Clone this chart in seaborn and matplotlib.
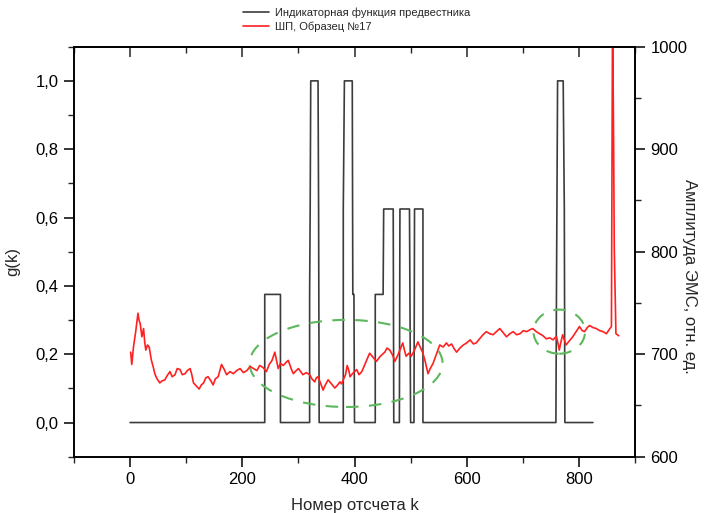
import matplotlib
matplotlib.use('Agg')
import numpy as np
import pandas as pd
import seaborn as sns
import matplotlib.pyplot as plt
from matplotlib.patches import Ellipse
from matplotlib.ticker import MultipleLocator, FuncFormatter

# Indicator function of the precursor (left axis, g(k))
ind_k = [0, 240, 240, 268, 268, 320, 320, 321, 322, 335, 336, 337,
         380, 380, 382, 396, 397, 399, 400,
         437, 437, 451, 452, 469, 470,
         480, 481, 498, 500,
         506, 507, 522, 522,
         759, 760, 762, 772, 774, 775, 825]
ind_g = [0, 0, 0.375, 0.375, 0, 0, 0.375, 0.625, 1.0, 1.0, 0.625, 0,
         0, 0.625, 1.0, 1.0, 0.375, 0.375, 0,
         0, 0.375, 0.375, 0.625, 0.625, 0,
         0, 0.625, 0.625, 0,
         0, 0.625, 0.625, 0,
         0, 0.375, 1.0, 1.0, 0.625, 0, 0]

# EMS amplitude, sample No.17 (right axis)
ems_k = [1, 3, 6, 10, 14, 16, 18, 21, 24, 26, 28, 31, 34, 38, 41, 44, 48, 53,
         57, 62, 66, 71, 75, 80, 84, 89, 93, 98, 102, 107, 110, 113, 118, 123,
         127, 131, 135, 139, 144, 148, 152, 157, 160, 163, 167, 172, 178, 184,
         190, 196, 202, 208, 214, 220, 226, 231, 237, 243, 248, 253, 258, 261,
         264, 268, 273, 278, 282, 287, 291, 296, 300, 304, 308, 314, 320, 324,
         329, 332, 335, 340, 344, 348, 353, 359, 365, 370, 374, 377, 380, 384,
         387, 390, 392, 398, 404, 408, 413, 420, 427, 433, 439, 446, 454, 458,
         463, 468, 472, 478, 486, 489, 492, 497, 501, 507, 513, 517, 522, 526,
         531, 535, 540, 546, 552, 558, 564, 568, 573, 578, 582, 588, 594, 600,
         606, 612, 617, 620, 623, 629, 635, 641, 647, 653, 659, 665, 671, 677,
         683, 689, 695, 701, 707, 713, 718, 724, 730, 736, 742, 748, 754, 757,
         760, 763, 765, 768, 771, 774, 777, 783, 789, 795, 801, 806, 810, 815,
         819, 825, 831, 837, 843, 846, 849, 854, 858, 860, 862, 863, 866, 871]
ems_amp = [702, 690, 707, 722, 740, 733, 730, 717, 725, 712, 704, 709, 707, 694,
           688, 681, 676, 672, 674, 675, 679, 683, 678, 680, 686, 685, 680, 681,
           684, 686, 680, 672, 669, 666, 670, 672, 677, 678, 674, 670, 676, 678,
           684, 690, 686, 680, 683, 681, 684, 686, 682, 684, 688, 686, 684, 689,
           687, 683, 690, 694, 702, 694, 686, 691, 689, 692, 694, 686, 681, 684,
           686, 683, 680, 682, 680, 676, 673, 677, 678, 671, 665, 670, 675, 671,
           667, 670, 673, 671, 675, 680, 689, 684, 678, 682, 685, 680, 683, 692,
           701, 697, 693, 698, 702, 706, 704, 699, 693, 700, 711, 704, 698, 701,
           698, 704, 712, 707, 701, 693, 681, 686, 691, 700, 709, 707, 711, 708,
           710, 705, 702, 706, 709, 711, 714, 710, 711, 713, 715, 719, 722, 720,
           719, 722, 725, 721, 717, 720, 722, 719, 720, 723, 722, 724, 725, 722,
           720, 718, 715, 716, 714, 716, 717, 710, 704, 712, 719, 714, 709, 713,
           717, 722, 727, 723, 722, 726, 728, 726, 725, 723, 722, 721, 720, 724,
           727, 1040, 896, 805, 720, 718]

# Highlight ellipses (centre k, centre amplitude, width, height)
ell_cx = [385, 765]
ell_cy = [691, 722]
ell_w = [344, 92]
ell_h = [85, 43]

xticks = [0, 200, 400, 600, 800]

sns.set_theme(style='ticks')
plt.rcParams['font.family'] = ['Liberation Sans', 'DejaVu Sans']

ind_df = pd.DataFrame({'k': ind_k, 'g': ind_g})
ems_df = pd.DataFrame({'k': ems_k, 'amp': ems_amp})

W, H = 711, 513
fig = plt.figure(figsize=(W / 100, H / 100), dpi=100)
ax = fig.add_axes([74 / W, 1 - 456.7 / H, (635 - 74) / W, 410 / H])
ax2 = ax.twinx()

sns.lineplot(data=ind_df, x='k', y='g', ax=ax, sort=False, estimator=None,
             color='#3c3c3c', lw=1.2, label='Индикаторная функция предвестника',
             legend=False)
sns.lineplot(data=ems_df, x='k', y='amp', ax=ax2, sort=False, estimator=None,
             color='#ff2020', lw=1.2, label='ШП, Образец №17', legend=False)

for cx, cy, w, h in zip(ell_cx, ell_cy, ell_w, ell_h):
    ax2.add_patch(Ellipse((cx, cy), w, h, fill=False, ec='#5cb85c', lw=1.5,
                          ls=(0, (6, 5))))

ax.set_xlim(-100, 900)
ax.set_ylim(-0.1, 1.1)
ax2.set_ylim(600, 1000)

ax.set_xticks(xticks)
ax.xaxis.set_minor_locator(MultipleLocator(100))
ax.yaxis.set_major_locator(MultipleLocator(0.2))
ax.yaxis.set_minor_locator(MultipleLocator(0.1))
ax.yaxis.set_major_formatter(FuncFormatter(lambda v, p: f"{v:.1f}".replace('.', ',')))
ax2.yaxis.set_major_locator(MultipleLocator(100))
ax2.yaxis.set_minor_locator(MultipleLocator(50))

for a in (ax, ax2):
    for s in a.spines.values():
        s.set_visible(True)
        s.set_linewidth(1.2)
        s.set_color('black')
    a.tick_params(which='major', direction='out', length=7, width=1.1,
                  labelsize=12, colors='black', pad=4)
    a.tick_params(which='minor', direction='out', length=4, width=1.0)
    a.grid(False)
ax.tick_params(axis='y', right=False, which='both')
ax2.tick_params(axis='y', left=False, which='both')

top = ax.secondary_xaxis('top')
top.set_xticks(xticks)
top.xaxis.set_minor_locator(MultipleLocator(100))
top.tick_params(which='major', direction='in', length=7, width=1.1, labeltop=False)
top.tick_params(which='minor', direction='in', length=4, width=1.0)
top.spines['top'].set_linewidth(1.2)

ax.set_xlabel('Номер отсчета k', fontsize=12)
ax.set_ylabel('g(k)', fontsize=12)
ax2.set_ylabel('Амплитуда ЭМС, отн. ед.', fontsize=12, rotation=270)
ax.xaxis.set_label_coords(0.5, -0.10)
ax.yaxis.set_label_coords(-0.095, 0.477)
ax2.yaxis.set_label_coords(1.11, 0.44)

h1, l1 = ax.get_legend_handles_labels()
h2, l2 = ax2.get_legend_handles_labels()
fig.legend(h1 + h2, l1 + l2, loc='upper left', bbox_to_anchor=(236 / W, 1.0),
           frameon=False, fontsize=8, handlelength=2.3, labelspacing=0.3,
           borderaxespad=0.25, handletextpad=0.6)

fig.savefig('out.png', dpi=100)
